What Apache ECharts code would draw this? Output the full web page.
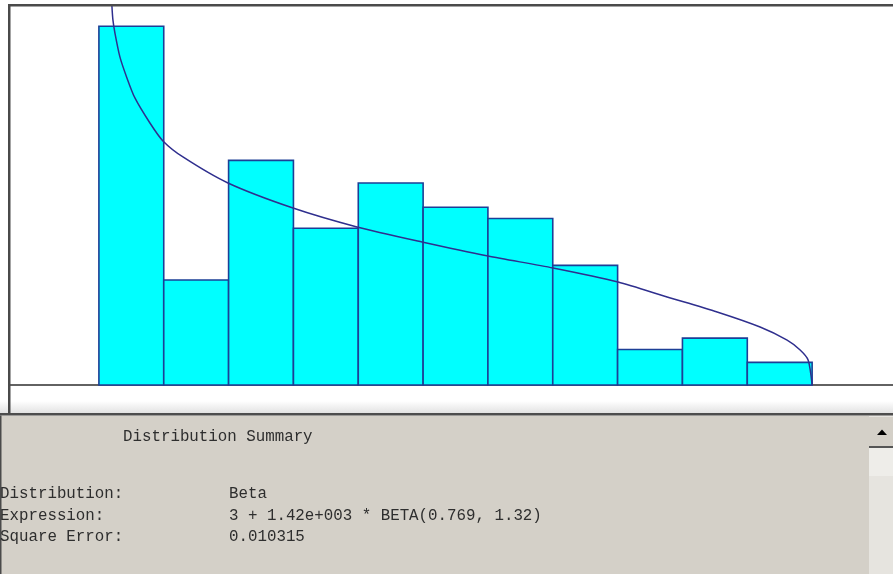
<!DOCTYPE html>
<html>
<head>
<meta charset="utf-8">
<script src="https://cdn.jsdelivr.net/npm/echarts@6/dist/echarts.min.js"></script>
<style>
  html, body { margin: 0; padding: 0; background: #ffffff; }
  #chart { width: 893px; height: 574px; }
</style>
</head>
<body>
<div id="chart"></div>
<script>
// Histogram bin edges (data units) and relative frequency per bin
const binEdges = [3, 132.1, 261.2, 390.3, 519.4, 648.5, 777.5, 906.6, 1035.7, 1164.8, 1293.9, 1423];
const binFreq = [0.222, 0.065, 0.139, 0.097, 0.125, 0.110, 0.103, 0.074, 0.022, 0.029, 0.014];

// Fitted density curve, sampled points (x, relative frequency)
const curveX = [26.9, 28.9, 30.9, 34.9, 44.8, 58.8, 74.7, 104.6, 130.5, 170.3, 259.9, 389.4,
                516.8, 646.3, 777.7, 907.2, 1036.6, 1134.2, 1233.8, 1319.4, 1373.2, 1399.1, 1415.0, 1423];
const curveY = [0.2475, 0.2345, 0.2259, 0.2178, 0.2030, 0.1900, 0.1776, 0.1621, 0.1510, 0.1411, 0.1250, 0.1095,
                0.0978, 0.0885, 0.0798, 0.0724, 0.0637, 0.0545, 0.0452, 0.0359, 0.0278, 0.0217, 0.0155, 0];

// Summary panel text
const summaryTitle = 'Distribution Summary';
const summaryLabels = ['Distribution:', 'Expression:', 'Square Error:'];
const summaryValues = ['Beta', '3 + 1.42e+003 * BETA(0.769, 1.32)', '0.010315'];

const bars = binFreq.map((f, i) => [binEdges[i], binEdges[i + 1], f]);
const curve = curveX.map((x, i) => [x, curveY[i]]);

const mono = '"Liberation Mono", "DejaVu Sans Mono", monospace';
const textColor = '#2e2e2e';
const textFont = 15.8;

function panelText(x, y, text) {
  return { type: 'text', x: x, y: y, z: 4,
    style: { text: text, font: textFont + 'px ' + mono, fill: textColor, verticalAlign: 'middle', align: 'left' } };
}

const graphics = [
  // lower summary panel
  { type: 'rect', shape: { x: 0, y: 401, width: 893, height: 13 },
    style: { fill: new echarts.graphic.LinearGradient(0, 0, 0, 1, [
      { offset: 0, color: '#ffffff' }, { offset: 1, color: '#e0e0e0' }]) }, z: 0 },
  { type: 'rect', shape: { x: 0, y: 413, width: 893, height: 2.5 }, style: { fill: '#4d4d4d' }, z: 1 },
  { type: 'rect', shape: { x: 0, y: 415.5, width: 893, height: 160 }, style: { fill: '#d4d0c8' }, z: 0 },
  { type: 'rect', shape: { x: 0, y: 415.5, width: 1.5, height: 160 }, style: { fill: '#4a4a4a' }, z: 1 },
  // scrollbar
  { type: 'rect', shape: { x: 869, y: 416, width: 24, height: 160 }, style: { fill: '#e6e4df' }, z: 1 },
  { type: 'rect', shape: { x: 869, y: 448, width: 24, height: 28 }, style: { fill: '#eeede9' }, z: 1 },
  { type: 'rect', shape: { x: 869, y: 417, width: 24, height: 29 }, style: { fill: '#d4d0c8' }, z: 2 },
  { type: 'rect', shape: { x: 869, y: 446, width: 24, height: 2 }, style: { fill: '#555555' }, z: 2 },
  { type: 'polygon', shape: { points: [[877, 435], [887, 435], [882, 429.5]] }, style: { fill: '#000000' }, z: 3 },
  // outer frame lines of the plot panel
  { type: 'rect', shape: { x: 8, y: 4, width: 885, height: 2.5 }, style: { fill: '#4a4a4a' }, z: 5 },
  { type: 'rect', shape: { x: 8, y: 4, width: 2.5, height: 410 }, style: { fill: '#4a4a4a' }, z: 5 },
  // summary text
  panelText(123, 437, summaryTitle)
];
summaryLabels.forEach((t, i) => {
  const y = 494 + i * 21.5;
  graphics.push(panelText(0, y, t));
  graphics.push(panelText(229, y, summaryValues[i]));
});

const chart = echarts.init(document.getElementById('chart'), null, { renderer: 'canvas' });
chart.setOption({
  animation: false,
  backgroundColor: '#ffffff',
  grid: { left: 10, right: 0, top: 6, bottom: 189 },
  xAxis: {
    type: 'value', min: -174, max: 1584,
    axisLine: { show: true, lineStyle: { color: '#2f2f2f', width: 1.5 } },
    axisTick: { show: false }, axisLabel: { show: false }, splitLine: { show: false }
  },
  yAxis: {
    type: 'value', min: 0, max: 0.2345, show: false, splitLine: { show: false }
  },
  graphic: graphics,
  series: [
    {
      type: 'custom',
      data: bars,
      z: 2,
      renderItem: function (params, api) {
        const p0 = api.coord([api.value(0), api.value(2)]);
        const p1 = api.coord([api.value(1), 0]);
        return {
          type: 'rect',
          shape: { x: p0[0], y: p0[1], width: p1[0] - p0[0], height: p1[1] - p0[1] },
          style: { fill: '#00ffff', stroke: '#1d3f96', lineWidth: 1.6 }
        };
      }
    },
    {
      type: 'line',
      data: curve,
      z: 3,
      smooth: 0.25,
      showSymbol: false,
      clip: true,
      lineStyle: { color: '#2f2f8e', width: 1.5 }
    }
  ]
});
</script>
</body>
</html>
